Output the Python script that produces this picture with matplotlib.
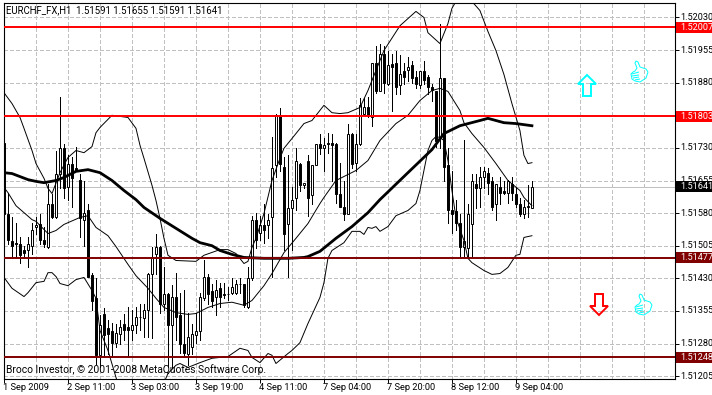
import numpy as np
import matplotlib
matplotlib.use('Agg')
import matplotlib.pyplot as plt
from matplotlib.patches import Polygon, Rectangle
from matplotlib.transforms import IdentityTransform, blended_transform_factory

plt.rcParams['font.family'] = ['Roboto', 'DejaVu Sans']

# candles (oldest bar first)
highs = [1.51747,1.51627,1.51570,1.51558,1.51524,1.51505,1.51524,1.51558,1.51570,1.51577,
         1.51547,1.51648,1.51625,1.51724,1.51848,1.51740,1.51713,1.51708,1.51731,1.51671,
         1.51655,1.51602,1.51443,1.51430,1.51345,1.51361,1.51333,1.51328,1.51326,1.51333,
         1.51349,1.51363,1.51356,1.51363,1.51372,1.51372,1.51443,1.51501,1.51533,1.51505,
         1.51455,1.51397,1.51414,1.51443,1.51397,1.51402,1.51351,1.51326,1.51351,1.51397,
         1.51471,1.51441,1.51418,1.51425,1.51420,1.51420,1.51409,1.51430,1.51425,1.51430,
         1.51418,1.51455,1.51574,1.51581,1.51574,1.51602,1.51579,1.51754,1.51809,1.51821,
         1.51710,1.51713,1.51639,1.51729,1.51696,1.51650,1.51713,1.51690,1.51740,1.51761,
         1.51752,1.51765,1.51763,1.51742,1.51696,1.51655,1.51786,1.51765,1.51763,1.51844,
         1.51844,1.51846,1.51926,1.51965,1.51970,1.51965,1.51954,1.51947,1.51954,1.51943,
         1.51926,1.51938,1.51931,1.51908,1.51908,1.51931,1.51897,1.51876,1.51862,1.52014,
         1.51890,1.51729,1.51678,1.51609,1.51579,1.51749,1.51602,1.51671,1.51671,1.51685,
         1.51687,1.51683,1.51662,1.51648,1.51662,1.51655,1.51657,1.51662,1.51639,1.51614,
         1.51609,1.51644,1.51655]
lows = [1.51574,1.51510,1.51476,1.51476,1.51466,1.51476,1.51455,1.51487,1.51533,1.51510,
        1.51501,1.51499,1.51568,1.51568,1.51637,1.51614,1.51609,1.51593,1.51678,1.51524,
        1.51505,1.51432,1.51356,1.51234,1.51225,1.51248,1.51257,1.51248,1.51271,1.51280,
        1.51287,1.51248,1.51287,1.51305,1.51310,1.51294,1.51294,1.51292,1.51441,1.51351,
        1.51356,1.51225,1.51223,1.51287,1.51259,1.51248,1.51230,1.51257,1.51282,1.51287,
        1.51379,1.51372,1.51363,1.51345,1.51363,1.51384,1.51379,1.51395,1.51395,1.51397,
        1.51363,1.51361,1.51425,1.51499,1.51517,1.51512,1.51522,1.51432,1.51662,1.51678,
        1.51494,1.51432,1.51496,1.51586,1.51632,1.51637,1.51574,1.51602,1.51690,1.51717,
        1.51678,1.51719,1.51655,1.51604,1.51593,1.51565,1.51577,1.51683,1.51678,1.51736,
        1.51805,1.51800,1.51781,1.51857,1.51862,1.51857,1.51874,1.51816,1.51855,1.51855,
        1.51878,1.51885,1.51880,1.51867,1.51867,1.51878,1.51855,1.51839,1.51731,1.51729,
        1.51655,1.51558,1.51535,1.51540,1.51478,1.51478,1.51476,1.51478,1.51591,1.51593,
        1.51637,1.51625,1.51586,1.51563,1.51602,1.51625,1.51604,1.51609,1.51593,1.51574,
        1.51568,1.51570,1.51591]
opens = [1.51742,1.51579,1.51515,1.51512,1.51508,1.51494,1.51494,1.51505,1.51547,1.51556,
         1.51519,1.51501,1.51602,1.51570,1.51671,1.51729,1.51639,1.51694,1.51683,1.51657,
         1.51565,1.51588,1.51437,1.51384,1.51253,1.51349,1.51315,1.51308,1.51282,1.51303,
         1.51324,1.51319,1.51310,1.51322,1.51342,1.51338,1.51356,1.51439,1.51485,1.51501,
         1.51372,1.51393,1.51322,1.51386,1.51345,1.51278,1.51257,1.51271,1.51299,1.51308,
         1.51384,1.51432,1.51400,1.51386,1.51407,1.51393,1.51395,1.51397,1.51397,1.51418,
         1.51416,1.51363,1.51430,1.51563,1.51535,1.51552,1.51552,1.51570,1.51690,1.51805,
         1.51687,1.51554,1.51591,1.51614,1.51692,1.51644,1.51699,1.51621,1.51690,1.51740,
         1.51729,1.51742,1.51742,1.51738,1.51625,1.51595,1.51577,1.51763,1.51696,1.51740,
         1.51809,1.51825,1.51802,1.51926,1.51862,1.51947,1.51878,1.51924,1.51926,1.51874,
         1.51906,1.51910,1.51920,1.51892,1.51874,1.51906,1.51892,1.51871,1.51862,1.51752,
         1.51890,1.51690,1.51586,1.51584,1.51558,1.51501,1.51499,1.51554,1.51648,1.51637,
         1.51662,1.51673,1.51653,1.51600,1.51639,1.51630,1.51627,1.51648,1.51625,1.51600,
         1.51579,1.51593,1.51591]
closes = [1.51579,1.51517,1.51505,1.51508,1.51483,1.51489,1.51508,1.51542,1.51552,1.51517,
          1.51508,1.51600,1.51570,1.51669,1.51729,1.51637,1.51694,1.51660,1.51678,1.51568,
          1.51581,1.51434,1.51377,1.51253,1.51322,1.51299,1.51303,1.51282,1.51305,1.51319,
          1.51312,1.51312,1.51322,1.51342,1.51340,1.51358,1.51439,1.51478,1.51501,1.51372,
          1.51393,1.51322,1.51386,1.51342,1.51280,1.51259,1.51294,1.51301,1.51308,1.51386,
          1.51432,1.51395,1.51377,1.51404,1.51388,1.51391,1.51393,1.51409,1.51416,1.51416,
          1.51368,1.51430,1.51563,1.51517,1.51552,1.51542,1.51563,1.51683,1.51805,1.51694,
          1.51533,1.51591,1.51611,1.51699,1.51644,1.51650,1.51614,1.51690,1.51740,1.51729,
          1.51736,1.51740,1.51736,1.51625,1.51595,1.51577,1.51763,1.51692,1.51740,1.51828,
          1.51825,1.51805,1.51926,1.51862,1.51947,1.51880,1.51920,1.51915,1.51869,1.51899,
          1.51894,1.51917,1.51890,1.51878,1.51908,1.51887,1.51871,1.51864,1.51747,1.51890,
          1.51687,1.51586,1.51577,1.51558,1.51501,1.51515,1.51579,1.51653,1.51637,1.51662,
          1.51676,1.51650,1.51595,1.51646,1.51627,1.51627,1.51655,1.51627,1.51600,1.51577,
          1.51593,1.51597,1.51641]

# moving average, thick line
ma_bars = [0,2,6,8,10,13,15,18,21,24,27,30,33,35,39,43,47,49,52,54,57,60,65,71,75,76,79,83,87,91,94,
           101,107,110,114,119,121,125,128,132]
ma_vals = [1.51673,1.51671,1.51657,1.51653,1.51650,1.51655,1.51662,1.51676,1.51680,1.51673,1.51655,
           1.51632,1.51611,1.51593,1.51568,1.51545,1.51522,1.51512,1.51505,1.51494,1.51485,1.51478,
           1.51476,1.51476,1.51478,1.51480,1.51492,1.51522,1.51549,1.51581,1.51611,1.51673,1.51726,
           1.51763,1.51781,1.51793,1.51798,1.51788,1.51786,1.51781]

# bollinger bands, thin lines
upper_bars = [0,2,4,5,7,8,10,11,12,14,16,18,20,22,23,24,27,31,33,34,35,37,38,39,40,41,43,48,50,54,56,
              58,60,61,62,63,65,67,69,70,73,75,77,80,82,84,86,89,91,93,95,99,103,105,106,109,111,112,
              113,115,117,119,121,123,125,127,129,130,131,132]
upper_vals = [1.51857,1.51832,1.51800,1.51775,1.51724,1.51694,1.51660,1.51637,1.51625,1.51673,1.51708,
              1.51724,1.51719,1.51733,1.51765,1.51777,1.51805,1.51800,1.51775,1.51736,1.51706,1.51644,
              1.51609,1.51568,1.51522,1.51483,1.51471,1.51469,1.51483,1.51496,1.51496,1.51487,1.51464,
              1.51469,1.51501,1.51522,1.51579,1.51655,1.51706,1.51729,1.51763,1.51786,1.51793,1.51828,
              1.51811,1.51809,1.51811,1.51823,1.51862,1.51908,1.51954,1.52011,1.52044,1.52030,1.51995,
              1.51970,1.52016,1.52051,1.52067,1.52076,1.52067,1.52046,1.51998,1.51954,1.51899,1.51832,
              1.51770,1.51713,1.51694,1.51696]
middle_bars = [0,1,3,5,7,8,11,13,15,19,21,23,26,28,31,33,36,38,40,43,46,48,51,54,57,60,62,65,67,70,73,
               76,79,80,83,88,91,94,98,101,104,107,109,111,114,115,117,120,123,126,129,130,132]
middle_vals = [1.51639,1.51627,1.51597,1.51581,1.51565,1.51561,1.51533,1.51540,1.51554,1.51570,1.51574,
               1.51547,1.51528,1.51503,1.51462,1.51436,1.51407,1.51384,1.51363,1.51351,1.51347,1.51349,
               1.51363,1.51372,1.51375,1.51368,1.51379,1.51413,1.51441,1.51489,1.51522,1.51556,1.51602,
               1.51616,1.51655,1.51678,1.51701,1.51747,1.51786,1.51805,1.51839,1.51862,1.51867,1.51860,
               1.51816,1.51788,1.51763,1.51731,1.51694,1.51655,1.51632,1.51616,1.51597]
lower_bars = [0,2,5,6,8,10,11,12,13,14,16,18,20,22,23,24,26,28,30,35,40,41,43,44,46,49,52,56,59,61,62,
              64,66,67,68,71,72,74,76,79,80,81,82,85,87,89,90,91,92,93,94,96,98,101,103,104,105,106,
              107,108,109,110,111,112,113,115,116,117,120,122,124,126,128,129,130,132]
lower_vals = [1.51432,1.51407,1.51388,1.51397,1.51420,1.51423,1.51443,1.51443,1.51434,1.51418,1.51413,
              1.51427,1.51432,1.51402,1.51384,1.51310,1.51264,1.51202,1.51150,1.51103,1.51190,1.51211,
              1.51230,1.51234,1.51225,1.51236,1.51246,1.51250,1.51269,1.51264,1.51248,1.51236,1.51257,
              1.51253,1.51234,1.51257,1.51264,1.51282,1.51326,1.51386,1.51420,1.51476,1.51494,1.51512,
              1.51538,1.51538,1.51531,1.51547,1.51545,1.51549,1.51538,1.51549,1.51574,1.51586,1.51602,
              1.51632,1.51678,1.51724,1.51747,1.51756,1.51754,1.51747,1.51701,1.51632,1.51570,1.51517,
              1.51476,1.51466,1.51448,1.51439,1.51441,1.51455,1.51483,1.51485,1.51524,1.51528]

# horizontal levels and axis labels
red_levels = [1.52007, 1.51803]
dark_levels = [1.51477, 1.51248]
last_price = 1.51641
price_ticks = [1.52030,1.51955,1.51880,1.51805,1.51730,1.51655,1.51580,1.51505,1.51430,1.51355,1.51280,1.51205]
time_tick_bars = [0,16,32,48,64,80,96,112,128]
time_labels = ['1 Sep 2009','2 Sep 11:00','3 Sep 03:00','3 Sep 19:00','4 Sep 11:00',
               '7 Sep 04:00','7 Sep 20:00','8 Sep 12:00','9 Sep 04:00']

W, H = 712, 395
fig = plt.figure(figsize=(W / 100, H / 100), dpi=100, facecolor='white')
ax = fig.add_axes([3.5 / W, (H - 378.5) / H, 671 / W, 376 / H])
ax.set_xlim(-0.125, 167.65)
ax.set_ylim(1.511995, 1.520645)

grid_kw = dict(color='#c0c0c0', lw=0.7, ls=(0, (4, 3)), antialiased=False, zorder=1)
for b in range(8, 168, 8):
    ax.axvline(b, **grid_kw)
for p in price_ticks:
    ax.axhline(p, **grid_kw)
ax.axhline(last_price, color='#c0c0c0', lw=0.7, antialiased=False, zorder=1)

# candles
bars = np.arange(len(closes))
ax.vlines(bars, lows, highs, color='black', lw=0.7, antialiased=False, zorder=3)
for i in bars:
    up = closes[i] >= opens[i]
    ax.bar(i, abs(closes[i] - opens[i]), bottom=min(opens[i], closes[i]), width=0.5,
           facecolor='white' if up else 'black', edgecolor='black', lw=0.7, antialiased=True, zorder=4)

# indicators
ax.plot(upper_bars, upper_vals, color='black', lw=0.7, zorder=5)
ax.plot(middle_bars, middle_vals, color='black', lw=0.7, zorder=5)
ax.plot(lower_bars, lower_vals, color='black', lw=0.7, zorder=5)
ax.plot(ma_bars, ma_vals, color='black', lw=2.0, zorder=5)

for p in red_levels:
    ax.axhline(p, color='#ff0000', lw=1.4, zorder=6)
for p in dark_levels:
    ax.axhline(p, color='#800000', lw=1.4, zorder=6)

ax.set_xticks(time_tick_bars)
ax.set_xticklabels([])
ax.set_yticks(price_ticks)
ax.set_yticklabels([])
ax.yaxis.tick_right()
ax.tick_params(length=3, width=0.7, color='black')
for s in ax.spines.values():
    s.set_linewidth(0.8)

xtr = blended_transform_factory(ax.transData, ax.transAxes)
ytr = blended_transform_factory(ax.transAxes, ax.transData)
for b, t in zip(time_tick_bars, time_labels):
    ax.text(b - 0.3, -0.0245, t, transform=xtr, ha='left', va='center', clip_on=False,
            fontsize=6.7, color='black')
for p in price_ticks:
    ax.text(1.0085, p, f'{p:.5f}', transform=ytr, ha='left', va='center', clip_on=False,
            fontsize=6.6, color='black')

# price boxes on the right edge
box_h = 0.000253
for p, c in [(red_levels[0], '#ff0000'), (red_levels[1], '#ff0000'),
             (dark_levels[0], '#800000'), (dark_levels[1], '#800000'), (last_price, 'black')]:
    ax.add_patch(Rectangle((1.0025, p - box_h / 2), 0.06, box_h, transform=ytr, facecolor=c,
                           edgecolor='none', clip_on=False, zorder=8))
    ax.text(1.0085, p, f'{p:.5f}', transform=ytr, ha='left', va='center', clip_on=False,
            fontsize=6.6, color='white', zorder=9)

ax.text(0.004, 0.979, 'EURCHF_FX,H1  1.51591 1.51655 1.51591 1.51641', transform=ax.transAxes,
        ha='left', va='center', zorder=9, fontsize=6.9, color='black')
ax.text(0.004, 0.0225, 'Broco Investor, \u00a9 2001-2008 MetaQuotes Software Corp.', transform=ax.transAxes,
        ha='left', va='center', zorder=9, fontsize=7.4, color='black')


# small chart objects, placed in picture pixels
def px(points):
    return [(x, H - y) for x, y in points]


def add_shape(points, color, lw=1.2, closed=True):
    fig.add_artist(Polygon(px(points), closed=closed, fill=False, edgecolor=color, lw=lw,
                           transform=IdentityTransform(), zorder=10))


def thumb(x, y, color='#00ffff'):
    outline = [(5, 0), (7, 1), (9, 6), (15, 8), (17, 11), (15, 17), (9, 21), (4, 20), (1, 18), (0, 13),
               (2, 11), (4, 10), (6, 7), (4, 2)]
    add_shape([(x + a, y + b) for a, b in outline], color, lw=0.7)
    for a0, b0, a1, b1 in [(1, 13, 8, 11), (1, 15, 8, 14), (2, 17, 8, 16), (4, 19, 9, 18)]:
        add_shape([(x + a0, y + b0), (x + a1, y + b1)], color, lw=0.7, closed=False)


up_arrow = [(587, 75), (596, 84), (591, 84), (591, 96), (583, 96), (583, 84), (578, 84)]
down_arrow = [(595, 294), (603, 294), (603, 306), (608, 306), (599, 315), (590, 306), (595, 306)]
add_shape(up_arrow, '#00ffff', lw=1.4)
add_shape(down_arrow, '#ff0000', lw=1.4)
thumb(631, 61)
thumb(635, 294)

fig.savefig('out.png', dpi=100, facecolor='white')
